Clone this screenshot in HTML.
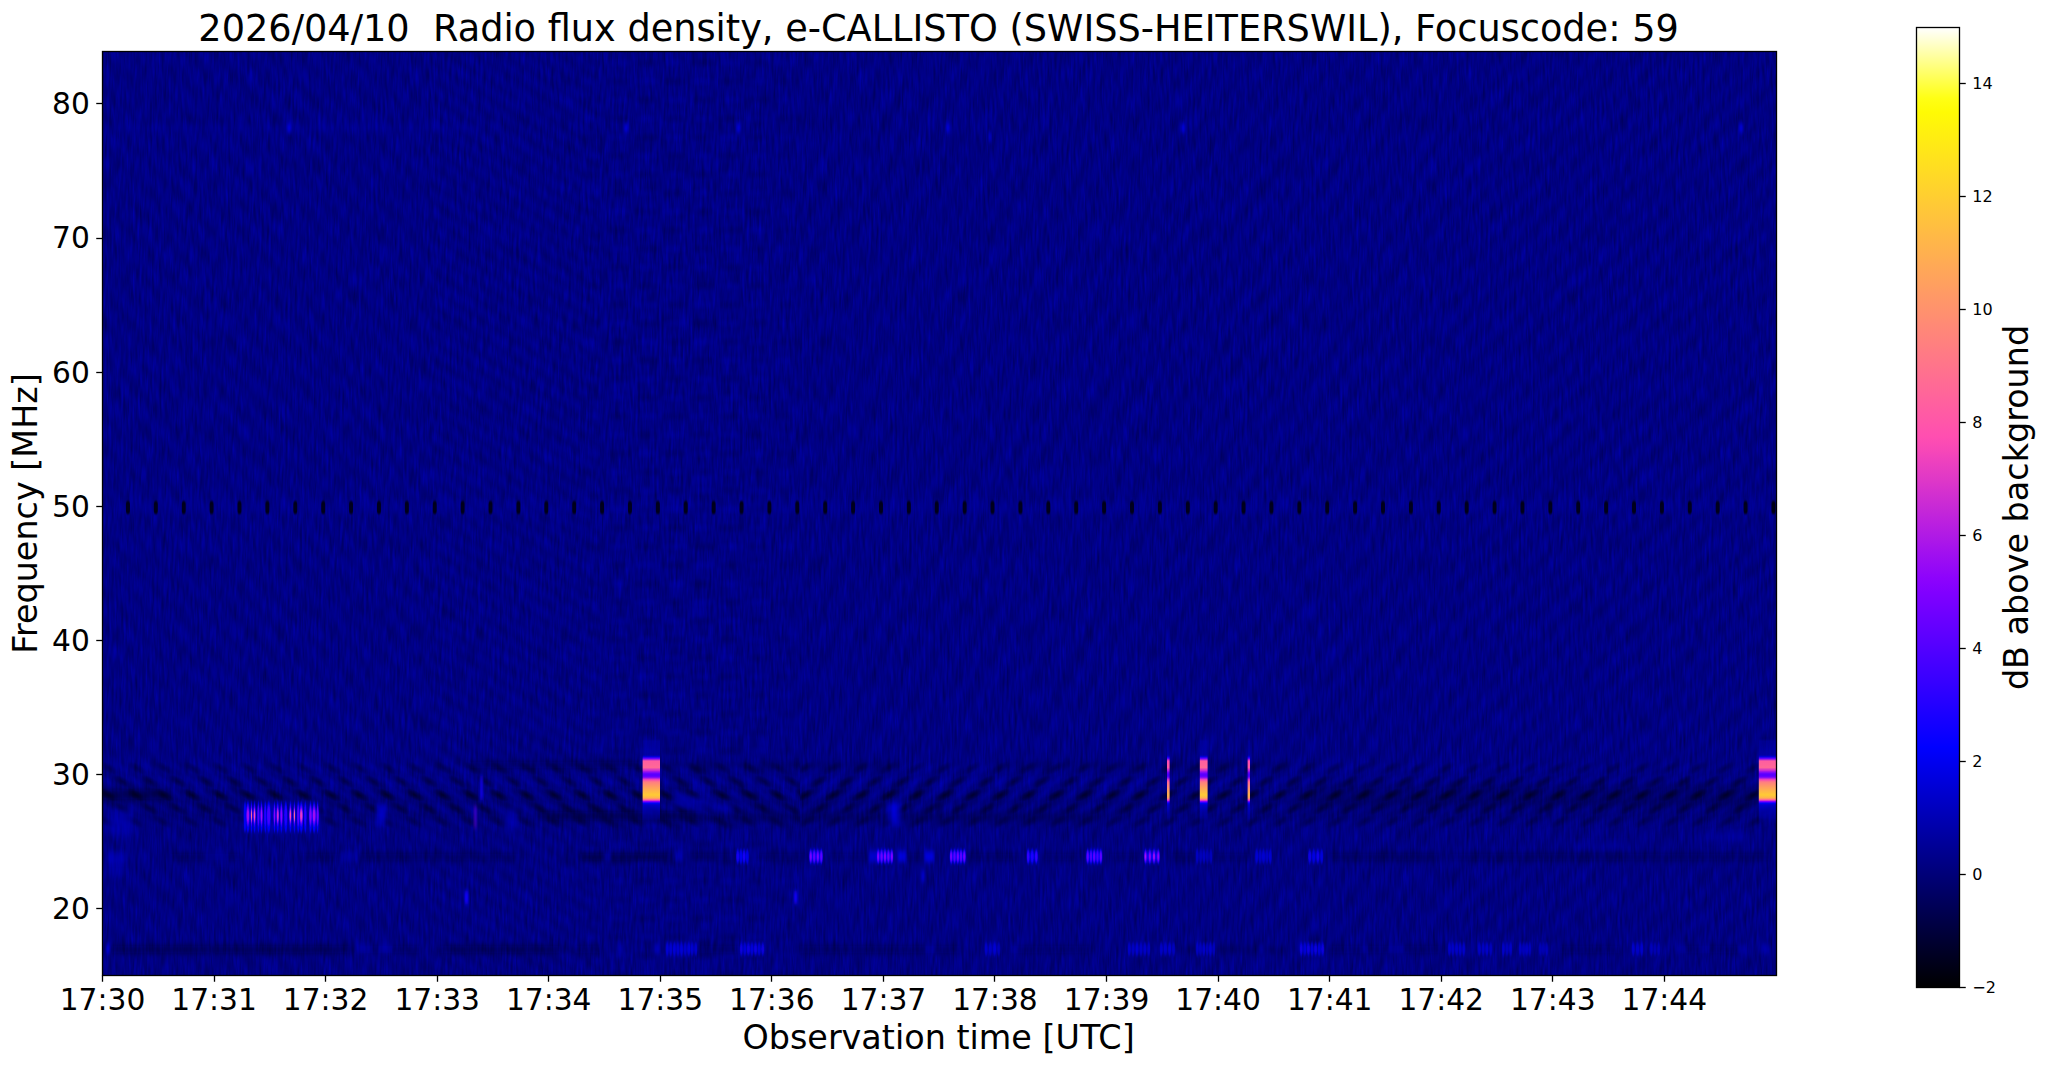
<!DOCTYPE html>
<html lang="en"><head><meta charset="utf-8">
<title>Radio flux density, e-CALLISTO (SWISS-HEITERSWIL)</title>
<style>
html,body{margin:0;padding:0;background:#fff;}
body{width:2047px;height:1067px;overflow:hidden;}
svg{display:block;}
text{font-family:"DejaVu Sans", "Liberation Sans", sans-serif;fill:#000;}
.t1{font-size:36.68px;}.t2{font-size:33.4px;}.t3{font-size:29.7px;}.t4{font-size:16px;}
</style></head><body>
<svg width="2047" height="1067" viewBox="0 0 2047 1067">
<defs>
<clipPath id="axclip"><rect x="102.50" y="51.50" width="1674.00" height="924.00"/></clipPath>
<filter id="noise" x="0" y="0" width="100%" height="100%" color-interpolation-filters="sRGB"><feTurbulence type="fractalNoise" baseFrequency="0.42 0.045" numOctaves="2" seed="11" result="n"/><feColorMatrix in="n" type="matrix" values="0 0 0 0 0  0 0 0 0 0  0.25 0.16 0 0 0.305  0 0 0 0 1"/></filter>
<filter id="b1" x="-50%" y="-50%" width="200%" height="200%"><feGaussianBlur stdDeviation="1.2 2.5"/></filter>
<filter id="b2" x="-50%" y="-50%" width="200%" height="200%"><feGaussianBlur stdDeviation="3 3"/></filter>
<filter id="b3" x="-50%" y="-50%" width="200%" height="200%"><feGaussianBlur stdDeviation="0.6 1.6"/></filter>
<filter id="b5" x="-5%" y="-200%" width="110%" height="500%"><feGaussianBlur stdDeviation="0.5 1.0"/></filter>
<filter id="b6" x="-50%" y="-10%" width="200%" height="120%"><feGaussianBlur stdDeviation="0.7 0.6"/></filter>
<filter id="b7" x="-200%" y="-10%" width="500%" height="120%"><feGaussianBlur stdDeviation="0.5 0.6"/></filter>
<filter id="b8" x="-10%" y="-30%" width="120%" height="160%"><feGaussianBlur stdDeviation="0.55 1.8"/></filter>
<filter id="b4" x="-20%" y="-100%" width="140%" height="300%"><feGaussianBlur stdDeviation="5 3"/></filter>
<radialGradient id="dk"><stop offset="0" stop-color="#000018" stop-opacity="0.9"/><stop offset="0.55" stop-color="#000018" stop-opacity="0.45"/><stop offset="1" stop-color="#000018" stop-opacity="0"/></radialGradient>
<radialGradient id="lt"><stop offset="0" stop-color="#0000ee" stop-opacity="0.8"/><stop offset="0.55" stop-color="#0000ee" stop-opacity="0.4"/><stop offset="1" stop-color="#0000ee" stop-opacity="0"/></radialGradient>
<linearGradient id="bar" x1="0" y1="0" x2="1" y2="0"><stop offset="0" stop-color="#000020" stop-opacity="0"/><stop offset="0.25" stop-color="#000020" stop-opacity="1"/><stop offset="0.5" stop-color="#000020" stop-opacity="0"/><stop offset="0.5" stop-color="#0000e0" stop-opacity="0"/><stop offset="0.75" stop-color="#0000e0" stop-opacity="0.9"/><stop offset="1" stop-color="#0000e0" stop-opacity="0"/></linearGradient>
<linearGradient id="hbar" x1="0" y1="0" x2="0" y2="1"><stop offset="0" stop-color="#000020" stop-opacity="0"/><stop offset="0.25" stop-color="#000020" stop-opacity="1"/><stop offset="0.5" stop-color="#000020" stop-opacity="0"/><stop offset="0.5" stop-color="#0000e0" stop-opacity="0"/><stop offset="0.75" stop-color="#0000e0" stop-opacity="0.9"/><stop offset="1" stop-color="#0000e0" stop-opacity="0"/></linearGradient>
<pattern id="zA" width="27.89" height="20" patternUnits="userSpaceOnUse" patternTransform="translate(121 500) skewX(43)"><rect width="27.89" height="20" fill="url(#bar)"/></pattern>
<pattern id="zB" width="27.89" height="20" patternUnits="userSpaceOnUse" patternTransform="translate(121 500) skewX(58)"><rect width="27.89" height="20" fill="url(#bar)"/></pattern>
<pattern id="zD" width="27.89" height="20" patternUnits="userSpaceOnUse" patternTransform="translate(121 500) skewX(-28)"><rect width="27.89" height="20" fill="url(#bar)"/></pattern>
<pattern id="zD2" width="27.89" height="20" patternUnits="userSpaceOnUse" patternTransform="translate(121 500) skewX(-38)"><rect width="27.89" height="20" fill="url(#bar)"/></pattern>
<pattern id="zE" width="27.89" height="20" patternUnits="userSpaceOnUse" patternTransform="translate(121 500) skewX(-47)"><rect width="27.89" height="20" fill="url(#bar)"/></pattern>
<pattern id="dA" width="27.89" height="20" patternUnits="userSpaceOnUse" patternTransform="translate(129 795) skewX(45)"><rect width="27.89" height="20" fill="url(#bar)"/></pattern>
<pattern id="dE" width="27.89" height="20" patternUnits="userSpaceOnUse" patternTransform="translate(129 795) skewX(-45)"><rect width="27.89" height="20" fill="url(#bar)"/></pattern>
<linearGradient id="fadeV" x1="0" y1="0" x2="0" y2="1"><stop offset="0" stop-color="#fff" stop-opacity="0"/><stop offset="0.3" stop-color="#fff" stop-opacity="0.8"/><stop offset="0.5" stop-color="#fff"/><stop offset="0.7" stop-color="#fff" stop-opacity="0.8"/><stop offset="1" stop-color="#fff" stop-opacity="0"/></linearGradient>
<mask id="mV" maskUnits="userSpaceOnUse" x="0" y="752" width="2047" height="86"><rect x="0" y="752" width="2047" height="86" fill="url(#fadeV)"/></mask>
<pattern id="zC" width="55.78" height="37.2" patternUnits="userSpaceOnUse" patternTransform="translate(800 500)"><ellipse cx="14" cy="9.3" rx="15" ry="5.5" fill="url(#dk)"/><ellipse cx="42" cy="9.3" rx="15" ry="5.5" fill="url(#lt)"/><ellipse cx="42" cy="27.9" rx="15" ry="5.5" fill="url(#dk)"/><ellipse cx="14" cy="27.9" rx="15" ry="5.5" fill="url(#lt)"/></pattern>
<linearGradient id="fadeC" x1="0" y1="0" x2="1" y2="0"><stop offset="0" stop-color="#fff" stop-opacity="0"/><stop offset="0.3" stop-color="#fff"/><stop offset="0.7" stop-color="#fff"/><stop offset="1" stop-color="#fff" stop-opacity="0"/></linearGradient>
<mask id="mC" maskUnits="userSpaceOnUse" x="540" y="0" width="290" height="1067"><rect x="540" y="0" width="290" height="1067" fill="url(#fadeC)"/></mask>
<pattern id="qL" width="27.89" height="13.4" patternUnits="userSpaceOnUse" patternTransform="translate(122.30 788.3) skewX(45)"><ellipse cx="7" cy="6.7" rx="7.5" ry="6.7" fill="url(#dk)" fill-opacity="1.00"/><ellipse cx="20.9" cy="6.7" rx="6.4" ry="6.7" fill="url(#lt)" fill-opacity="0.30"/></pattern>
<pattern id="qR" width="27.89" height="13.4" patternUnits="userSpaceOnUse" patternTransform="translate(135.70 788.3) skewX(-45)"><ellipse cx="7" cy="6.7" rx="7.5" ry="6.7" fill="url(#dk)" fill-opacity="1.00"/><ellipse cx="20.9" cy="6.7" rx="6.4" ry="6.7" fill="url(#lt)" fill-opacity="0.30"/></pattern>
<linearGradient id="gb1" x1="0" y1="0" x2="0" y2="1"><stop offset="0.0000" stop-color="#00008a" stop-opacity="0.00"/><stop offset="0.0349" stop-color="#0000ae" stop-opacity="0.50"/><stop offset="0.1977" stop-color="#0000b4" stop-opacity="0.65"/><stop offset="0.2186" stop-color="#0000e4" stop-opacity="1.00"/><stop offset="0.2395" stop-color="#6900ff" stop-opacity="1.00"/><stop offset="0.2674" stop-color="#ff5fa0" stop-opacity="1.00"/><stop offset="0.3430" stop-color="#ff6897" stop-opacity="1.00"/><stop offset="0.3779" stop-color="#c729d6" stop-opacity="1.00"/><stop offset="0.4070" stop-color="#6e00ff" stop-opacity="1.00"/><stop offset="0.4302" stop-color="#5200ff" stop-opacity="1.00"/><stop offset="0.4535" stop-color="#6e00ff" stop-opacity="1.00"/><stop offset="0.4849" stop-color="#f647b8" stop-opacity="1.00"/><stop offset="0.5116" stop-color="#ff7d82" stop-opacity="1.00"/><stop offset="0.5581" stop-color="#ff9867" stop-opacity="1.00"/><stop offset="0.6163" stop-color="#ffb649" stop-opacity="1.00"/><stop offset="0.6628" stop-color="#ffcb34" stop-opacity="1.00"/><stop offset="0.6977" stop-color="#ffb04f" stop-opacity="1.00"/><stop offset="0.7209" stop-color="#ff56a9" stop-opacity="1.00"/><stop offset="0.7384" stop-color="#8100ff" stop-opacity="1.00"/><stop offset="0.7558" stop-color="#0700ff" stop-opacity="1.00"/><stop offset="0.7791" stop-color="#0000d2" stop-opacity="0.90"/><stop offset="0.8372" stop-color="#0000c0" stop-opacity="0.75"/><stop offset="0.9302" stop-color="#0000ae" stop-opacity="0.50"/><stop offset="1.0000" stop-color="#00008a" stop-opacity="0.00"/></linearGradient>
<linearGradient id="gb2" x1="0" y1="0" x2="0" y2="1"><stop offset="0.0000" stop-color="#00008a" stop-opacity="0.00"/><stop offset="0.0349" stop-color="#0000ae" stop-opacity="0.50"/><stop offset="0.1977" stop-color="#0000b4" stop-opacity="0.65"/><stop offset="0.2186" stop-color="#0000e4" stop-opacity="1.00"/><stop offset="0.2395" stop-color="#5b00ff" stop-opacity="1.00"/><stop offset="0.2674" stop-color="#ff4db2" stop-opacity="1.00"/><stop offset="0.3430" stop-color="#ff56a9" stop-opacity="1.00"/><stop offset="0.3779" stop-color="#b21be4" stop-opacity="1.00"/><stop offset="0.4070" stop-color="#5f00ff" stop-opacity="1.00"/><stop offset="0.4302" stop-color="#4500ff" stop-opacity="1.00"/><stop offset="0.4535" stop-color="#5f00ff" stop-opacity="1.00"/><stop offset="0.4849" stop-color="#dd37c8" stop-opacity="1.00"/><stop offset="0.5116" stop-color="#ff6996" stop-opacity="1.00"/><stop offset="0.5581" stop-color="#ff827d" stop-opacity="1.00"/><stop offset="0.6163" stop-color="#ff9e61" stop-opacity="1.00"/><stop offset="0.6628" stop-color="#ffb24d" stop-opacity="1.00"/><stop offset="0.6977" stop-color="#ff9966" stop-opacity="1.00"/><stop offset="0.7209" stop-color="#f345ba" stop-opacity="1.00"/><stop offset="0.7384" stop-color="#7100ff" stop-opacity="1.00"/><stop offset="0.7558" stop-color="#0000fe" stop-opacity="1.00"/><stop offset="0.7791" stop-color="#0000d2" stop-opacity="0.90"/><stop offset="0.8372" stop-color="#0000c0" stop-opacity="0.75"/><stop offset="0.9302" stop-color="#0000ae" stop-opacity="0.50"/><stop offset="1.0000" stop-color="#00008a" stop-opacity="0.00"/></linearGradient>
<linearGradient id="cbar" x1="0" y1="1" x2="0" y2="0"><stop offset="0.0000" stop-color="#000000"/><stop offset="0.0147" stop-color="#00000f"/><stop offset="0.0294" stop-color="#00001e"/><stop offset="0.0441" stop-color="#00002d"/><stop offset="0.0588" stop-color="#00003c"/><stop offset="0.0735" stop-color="#00004b"/><stop offset="0.0882" stop-color="#00005a"/><stop offset="0.1029" stop-color="#000069"/><stop offset="0.1176" stop-color="#000078"/><stop offset="0.1324" stop-color="#000087"/><stop offset="0.1471" stop-color="#000096"/><stop offset="0.1618" stop-color="#0000a5"/><stop offset="0.1765" stop-color="#0000b4"/><stop offset="0.1912" stop-color="#0000c3"/><stop offset="0.2059" stop-color="#0000d2"/><stop offset="0.2206" stop-color="#0000e1"/><stop offset="0.2353" stop-color="#0000f0"/><stop offset="0.2500" stop-color="#0000ff"/><stop offset="0.2647" stop-color="#0c00ff"/><stop offset="0.2794" stop-color="#1700ff"/><stop offset="0.2941" stop-color="#2300ff"/><stop offset="0.3088" stop-color="#2f00ff"/><stop offset="0.3235" stop-color="#3b00ff"/><stop offset="0.3382" stop-color="#4600ff"/><stop offset="0.3529" stop-color="#5200ff"/><stop offset="0.3676" stop-color="#5e00ff"/><stop offset="0.3824" stop-color="#6900ff"/><stop offset="0.3971" stop-color="#7500ff"/><stop offset="0.4118" stop-color="#8100ff"/><stop offset="0.4265" stop-color="#8d03fc"/><stop offset="0.4412" stop-color="#980bf4"/><stop offset="0.4559" stop-color="#a412ed"/><stop offset="0.4706" stop-color="#b01ae5"/><stop offset="0.4853" stop-color="#bc21de"/><stop offset="0.5000" stop-color="#c729d6"/><stop offset="0.5147" stop-color="#d330cf"/><stop offset="0.5294" stop-color="#df38c7"/><stop offset="0.5441" stop-color="#ea3fc0"/><stop offset="0.5588" stop-color="#f647b8"/><stop offset="0.5735" stop-color="#ff4eb1"/><stop offset="0.5882" stop-color="#ff56a9"/><stop offset="0.6029" stop-color="#ff5da2"/><stop offset="0.6176" stop-color="#ff659a"/><stop offset="0.6324" stop-color="#ff6c93"/><stop offset="0.6471" stop-color="#ff748b"/><stop offset="0.6618" stop-color="#ff7b84"/><stop offset="0.6765" stop-color="#ff837c"/><stop offset="0.6912" stop-color="#ff8a75"/><stop offset="0.7059" stop-color="#ff926d"/><stop offset="0.7206" stop-color="#ff9966"/><stop offset="0.7353" stop-color="#ffa15e"/><stop offset="0.7500" stop-color="#ffa857"/><stop offset="0.7647" stop-color="#ffb04f"/><stop offset="0.7794" stop-color="#ffb748"/><stop offset="0.7941" stop-color="#ffbf40"/><stop offset="0.8088" stop-color="#ffc639"/><stop offset="0.8235" stop-color="#ffce31"/><stop offset="0.8382" stop-color="#ffd52a"/><stop offset="0.8529" stop-color="#ffdd22"/><stop offset="0.8676" stop-color="#ffe41b"/><stop offset="0.8824" stop-color="#ffec13"/><stop offset="0.8971" stop-color="#fff30c"/><stop offset="0.9118" stop-color="#fffb04"/><stop offset="0.9265" stop-color="#ffff15"/><stop offset="0.9412" stop-color="#ffff43"/><stop offset="0.9559" stop-color="#ffff72"/><stop offset="0.9706" stop-color="#ffffa1"/><stop offset="0.9853" stop-color="#ffffd0"/><stop offset="1.0000" stop-color="#ffffff"/></linearGradient>
</defs>
<g clip-path="url(#axclip)">
<rect x="102.50" y="51.50" width="1674.00" height="924.00" fill="#000078"/>
<rect x="102.50" y="51.50" width="1674.00" height="924.00" filter="url(#noise)"/>
<rect x="102.5" y="51.5" width="327.5" height="924.0" fill="url(#zA)" fill-opacity="0.07"/>
<rect x="430.0" y="51.5" width="170.0" height="924.0" fill="url(#zB)" fill-opacity="0.07"/>
<rect x="790.0" y="51.5" width="360.0" height="924.0" fill="url(#zD)" fill-opacity="0.07"/>
<rect x="1150.0" y="51.5" width="300.0" height="924.0" fill="url(#zD2)" fill-opacity="0.07"/>
<rect x="1450.0" y="51.5" width="326.5" height="924.0" fill="url(#zE)" fill-opacity="0.07"/>
<rect x="540" y="51.5" width="290" height="924.0" fill="url(#zC)" fill-opacity="0.17" mask="url(#mC)"/>
<rect x="102.5" y="788.3" width="697.5" height="13.4" fill="url(#qL)" fill-opacity="0.75"/>
<rect x="800.0" y="788.3" width="976.5" height="13.4" fill="url(#qR)" fill-opacity="0.75"/>
<rect x="102.5" y="774.9" width="697.5" height="13.4" fill="url(#qL)" fill-opacity="0.50"/>
<rect x="800.0" y="774.9" width="976.5" height="13.4" fill="url(#qR)" fill-opacity="0.50"/>
<rect x="102.5" y="801.7" width="697.5" height="13.4" fill="url(#qL)" fill-opacity="0.50"/>
<rect x="800.0" y="801.7" width="976.5" height="13.4" fill="url(#qR)" fill-opacity="0.50"/>
<rect x="102.5" y="761.5" width="697.5" height="13.4" fill="url(#qL)" fill-opacity="0.36"/>
<rect x="800.0" y="761.5" width="976.5" height="13.4" fill="url(#qR)" fill-opacity="0.36"/>
<rect x="102.5" y="815.1" width="697.5" height="13.4" fill="url(#qL)" fill-opacity="0.36"/>
<rect x="800.0" y="815.1" width="976.5" height="13.4" fill="url(#qR)" fill-opacity="0.36"/>
<g mask="url(#mV)"><rect x="102.5" y="752" width="697.5" height="86" fill="url(#dA)" fill-opacity="0.16"/><rect x="800.0" y="752" width="976.5" height="86" fill="url(#dE)" fill-opacity="0.16"/></g>
<rect x="92.5" y="790.0" width="77.5" height="9.0" fill="#000018" fill-opacity="0.50" filter="url(#b4)"/>
<rect x="170.0" y="790.0" width="1616.5" height="9.0" fill="#000018" fill-opacity="0.05" filter="url(#b4)"/>
<rect x="92.5" y="793.0" width="1694.0" height="30.0" fill="#000018" fill-opacity="0.08" filter="url(#b4)"/>
<rect x="470.0" y="761.5" width="170.0" height="7.0" fill="#000018" fill-opacity="0.32" filter="url(#b4)"/>
<rect x="665.0" y="762.5" width="235.0" height="7.0" fill="#000018" fill-opacity="0.20" filter="url(#b4)"/>
<rect x="1000.0" y="762.5" width="300.0" height="7.0" fill="#000018" fill-opacity="0.15" filter="url(#b4)"/>
<rect x="540.0" y="812.0" width="160.0" height="8.0" fill="#000018" fill-opacity="0.45" filter="url(#b4)"/>
<rect x="700.0" y="814.0" width="400.0" height="8.0" fill="#000018" fill-opacity="0.18" filter="url(#b4)"/>
<rect x="1300.0" y="783.0" width="460.0" height="24.0" fill="#000018" fill-opacity="0.15" filter="url(#b4)"/>
<rect x="170.0" y="854.0" width="70.0" height="6.0" fill="#000018" fill-opacity="0.35" filter="url(#b4)"/>
<rect x="300.0" y="854.0" width="40.0" height="6.0" fill="#000018" fill-opacity="0.30" filter="url(#b4)"/>
<rect x="360.0" y="854.0" width="160.0" height="6.0" fill="#000018" fill-opacity="0.35" filter="url(#b4)"/>
<rect x="580.0" y="854.0" width="90.0" height="6.0" fill="#000018" fill-opacity="0.60" filter="url(#b4)"/>
<rect x="690.0" y="854.0" width="45.0" height="6.0" fill="#000018" fill-opacity="0.30" filter="url(#b4)"/>
<rect x="760.0" y="854.0" width="45.0" height="6.0" fill="#000018" fill-opacity="0.30" filter="url(#b4)"/>
<rect x="830.0" y="854.0" width="35.0" height="6.0" fill="#000018" fill-opacity="0.30" filter="url(#b4)"/>
<rect x="905.0" y="854.0" width="20.0" height="6.0" fill="#000018" fill-opacity="0.30" filter="url(#b4)"/>
<rect x="970.0" y="854.0" width="50.0" height="6.0" fill="#000018" fill-opacity="0.30" filter="url(#b4)"/>
<rect x="1045.0" y="854.0" width="35.0" height="6.0" fill="#000018" fill-opacity="0.30" filter="url(#b4)"/>
<rect x="1110.0" y="854.0" width="30.0" height="6.0" fill="#000018" fill-opacity="0.30" filter="url(#b4)"/>
<rect x="1170.0" y="854.0" width="25.0" height="6.0" fill="#000018" fill-opacity="0.30" filter="url(#b4)"/>
<rect x="1215.0" y="854.0" width="35.0" height="6.0" fill="#000018" fill-opacity="0.30" filter="url(#b4)"/>
<rect x="1330.0" y="854.0" width="110.0" height="6.0" fill="#000018" fill-opacity="0.40" filter="url(#b4)"/>
<rect x="1450.0" y="854.0" width="320.0" height="6.0" fill="#000018" fill-opacity="0.35" filter="url(#b4)"/>
<rect x="112.0" y="946.0" width="98.0" height="7.0" fill="#000018" fill-opacity="0.45" filter="url(#b4)"/>
<rect x="215.0" y="946.0" width="135.0" height="7.0" fill="#000018" fill-opacity="0.45" filter="url(#b4)"/>
<rect x="360.0" y="946.0" width="60.0" height="7.0" fill="#000018" fill-opacity="0.30" filter="url(#b4)"/>
<rect x="440.0" y="946.0" width="120.0" height="7.0" fill="#000018" fill-opacity="0.45" filter="url(#b4)"/>
<rect x="575.0" y="946.0" width="25.0" height="7.0" fill="#000018" fill-opacity="0.30" filter="url(#b4)"/>
<rect x="700.0" y="946.0" width="40.0" height="7.0" fill="#000018" fill-opacity="0.25" filter="url(#b4)"/>
<rect x="800.0" y="946.0" width="160.0" height="7.0" fill="#000018" fill-opacity="0.30" filter="url(#b4)"/>
<rect x="1010.0" y="946.0" width="80.0" height="7.0" fill="#000018" fill-opacity="0.25" filter="url(#b4)"/>
<rect x="1180.0" y="946.0" width="110.0" height="7.0" fill="#000018" fill-opacity="0.20" filter="url(#b4)"/>
<rect x="1330.0" y="946.0" width="110.0" height="7.0" fill="#000018" fill-opacity="0.25" filter="url(#b4)"/>
<rect x="1560.0" y="946.0" width="60.0" height="7.0" fill="#000018" fill-opacity="0.25" filter="url(#b4)"/>
<rect x="1680.0" y="946.0" width="60.0" height="7.0" fill="#000018" fill-opacity="0.25" filter="url(#b4)"/>
<g fill="#000" filter="url(#b5)"><rect x="125.95" y="500.90" width="4.0" height="13" rx="1.8" ry="3.5"/><rect x="153.84" y="500.90" width="4.0" height="13" rx="1.8" ry="3.5"/><rect x="181.73" y="500.90" width="4.0" height="13" rx="1.8" ry="3.5"/><rect x="209.62" y="500.90" width="4.0" height="13" rx="1.8" ry="3.5"/><rect x="237.51" y="500.90" width="4.0" height="13" rx="1.8" ry="3.5"/><rect x="265.40" y="500.90" width="4.0" height="13" rx="1.8" ry="3.5"/><rect x="293.29" y="500.90" width="4.0" height="13" rx="1.8" ry="3.5"/><rect x="321.18" y="500.90" width="4.0" height="13" rx="1.8" ry="3.5"/><rect x="349.07" y="500.90" width="4.0" height="13" rx="1.8" ry="3.5"/><rect x="376.96" y="500.90" width="4.0" height="13" rx="1.8" ry="3.5"/><rect x="404.85" y="500.90" width="4.0" height="13" rx="1.8" ry="3.5"/><rect x="432.74" y="500.90" width="4.0" height="13" rx="1.8" ry="3.5"/><rect x="460.63" y="500.90" width="4.0" height="13" rx="1.8" ry="3.5"/><rect x="488.52" y="500.90" width="4.0" height="13" rx="1.8" ry="3.5"/><rect x="516.41" y="500.90" width="4.0" height="13" rx="1.8" ry="3.5"/><rect x="544.30" y="500.90" width="4.0" height="13" rx="1.8" ry="3.5"/><rect x="572.19" y="500.90" width="4.0" height="13" rx="1.8" ry="3.5"/><rect x="600.08" y="500.90" width="4.0" height="13" rx="1.8" ry="3.5"/><rect x="627.97" y="500.90" width="4.0" height="13" rx="1.8" ry="3.5"/><rect x="655.86" y="500.90" width="4.0" height="13" rx="1.8" ry="3.5"/><rect x="683.75" y="500.90" width="4.0" height="13" rx="1.8" ry="3.5"/><rect x="711.64" y="500.90" width="4.0" height="13" rx="1.8" ry="3.5"/><rect x="739.53" y="500.90" width="4.0" height="13" rx="1.8" ry="3.5"/><rect x="767.42" y="500.90" width="4.0" height="13" rx="1.8" ry="3.5"/><rect x="795.31" y="500.90" width="4.0" height="13" rx="1.8" ry="3.5"/><rect x="823.20" y="500.90" width="4.0" height="13" rx="1.8" ry="3.5"/><rect x="851.09" y="500.90" width="4.0" height="13" rx="1.8" ry="3.5"/><rect x="878.98" y="500.90" width="4.0" height="13" rx="1.8" ry="3.5"/><rect x="906.87" y="500.90" width="4.0" height="13" rx="1.8" ry="3.5"/><rect x="934.76" y="500.90" width="4.0" height="13" rx="1.8" ry="3.5"/><rect x="962.65" y="500.90" width="4.0" height="13" rx="1.8" ry="3.5"/><rect x="990.54" y="500.90" width="4.0" height="13" rx="1.8" ry="3.5"/><rect x="1018.43" y="500.90" width="4.0" height="13" rx="1.8" ry="3.5"/><rect x="1046.32" y="500.90" width="4.0" height="13" rx="1.8" ry="3.5"/><rect x="1074.21" y="500.90" width="4.0" height="13" rx="1.8" ry="3.5"/><rect x="1102.10" y="500.90" width="4.0" height="13" rx="1.8" ry="3.5"/><rect x="1129.99" y="500.90" width="4.0" height="13" rx="1.8" ry="3.5"/><rect x="1157.88" y="500.90" width="4.0" height="13" rx="1.8" ry="3.5"/><rect x="1185.77" y="500.90" width="4.0" height="13" rx="1.8" ry="3.5"/><rect x="1213.66" y="500.90" width="4.0" height="13" rx="1.8" ry="3.5"/><rect x="1241.55" y="500.90" width="4.0" height="13" rx="1.8" ry="3.5"/><rect x="1269.44" y="500.90" width="4.0" height="13" rx="1.8" ry="3.5"/><rect x="1297.33" y="500.90" width="4.0" height="13" rx="1.8" ry="3.5"/><rect x="1325.22" y="500.90" width="4.0" height="13" rx="1.8" ry="3.5"/><rect x="1353.11" y="500.90" width="4.0" height="13" rx="1.8" ry="3.5"/><rect x="1381.00" y="500.90" width="4.0" height="13" rx="1.8" ry="3.5"/><rect x="1408.89" y="500.90" width="4.0" height="13" rx="1.8" ry="3.5"/><rect x="1436.78" y="500.90" width="4.0" height="13" rx="1.8" ry="3.5"/><rect x="1464.67" y="500.90" width="4.0" height="13" rx="1.8" ry="3.5"/><rect x="1492.56" y="500.90" width="4.0" height="13" rx="1.8" ry="3.5"/><rect x="1520.45" y="500.90" width="4.0" height="13" rx="1.8" ry="3.5"/><rect x="1548.34" y="500.90" width="4.0" height="13" rx="1.8" ry="3.5"/><rect x="1576.23" y="500.90" width="4.0" height="13" rx="1.8" ry="3.5"/><rect x="1604.12" y="500.90" width="4.0" height="13" rx="1.8" ry="3.5"/><rect x="1632.01" y="500.90" width="4.0" height="13" rx="1.8" ry="3.5"/><rect x="1659.90" y="500.90" width="4.0" height="13" rx="1.8" ry="3.5"/><rect x="1687.79" y="500.90" width="4.0" height="13" rx="1.8" ry="3.5"/><rect x="1715.68" y="500.90" width="4.0" height="13" rx="1.8" ry="3.5"/><rect x="1743.57" y="500.90" width="4.0" height="13" rx="1.8" ry="3.5"/><rect x="1771.46" y="500.90" width="4.0" height="13" rx="1.8" ry="3.5"/></g>
<rect x="102.5" y="501.4" width="1674.0" height="12" fill="#0000c8" fill-opacity="0.16" filter="url(#b4)"/>
<rect x="244" y="804" width="75" height="27" fill="#0000c8" fill-opacity="0.55" filter="url(#b2)"/>
<g filter="url(#b8)"><ellipse cx="245.0" cy="817.0" rx="1.25" ry="15.5" fill="#0200ff" fill-opacity="0.9"/><ellipse cx="247.9" cy="817.0" rx="1.88" ry="15.5" fill="#0200ff" fill-opacity="0.9"/><ellipse cx="247.9" cy="815.5" rx="1.50" ry="9.6" fill="#5b00ff"/><ellipse cx="247.9" cy="815.5" rx="1.20" ry="6.2" fill="#980bf4"/><ellipse cx="251.5" cy="817.0" rx="1.00" ry="15.5" fill="#0200ff" fill-opacity="0.9"/><ellipse cx="251.5" cy="815.5" rx="0.80" ry="9.6" fill="#5b00ff"/><ellipse cx="251.5" cy="815.5" rx="0.64" ry="6.2" fill="#be23dc"/><ellipse cx="251.5" cy="815.5" rx="0.50" ry="4.2" fill="#ff6e91"/><ellipse cx="254.5" cy="817.0" rx="1.25" ry="15.5" fill="#0200ff" fill-opacity="0.9"/><ellipse cx="254.5" cy="815.5" rx="1.00" ry="9.6" fill="#5b00ff"/><ellipse cx="254.5" cy="815.5" rx="0.80" ry="6.2" fill="#be23dc"/><ellipse cx="254.5" cy="815.5" rx="0.62" ry="4.2" fill="#fb4ab5"/><ellipse cx="258.4" cy="817.0" rx="1.25" ry="15.5" fill="#0200ff" fill-opacity="0.9"/><ellipse cx="258.4" cy="815.5" rx="1.00" ry="9.6" fill="#5200ff"/><ellipse cx="261.5" cy="817.0" rx="1.25" ry="15.5" fill="#0200ff" fill-opacity="0.9"/><ellipse cx="261.5" cy="815.5" rx="1.00" ry="9.6" fill="#5b00ff"/><ellipse cx="261.5" cy="815.5" rx="0.80" ry="6.2" fill="#980bf4"/><ellipse cx="265.3" cy="817.0" rx="1.25" ry="15.5" fill="#0200ff" fill-opacity="0.9"/><ellipse cx="265.3" cy="815.5" rx="1.00" ry="9.6" fill="#2300ff"/><ellipse cx="268.7" cy="817.0" rx="2.00" ry="15.5" fill="#0200ff" fill-opacity="0.9"/><ellipse cx="268.7" cy="815.5" rx="1.60" ry="9.6" fill="#3f00ff"/><ellipse cx="274.5" cy="817.0" rx="1.00" ry="15.5" fill="#0200ff" fill-opacity="0.9"/><ellipse cx="274.5" cy="815.5" rx="0.80" ry="9.6" fill="#5b00ff"/><ellipse cx="274.5" cy="815.5" rx="0.64" ry="6.2" fill="#8100ff"/><ellipse cx="277.7" cy="817.0" rx="1.38" ry="15.5" fill="#0200ff" fill-opacity="0.9"/><ellipse cx="277.7" cy="815.5" rx="1.10" ry="9.6" fill="#5b00ff"/><ellipse cx="277.7" cy="815.5" rx="0.88" ry="6.2" fill="#be23dc"/><ellipse cx="277.7" cy="815.5" rx="0.68" ry="4.2" fill="#cc2cd3"/><ellipse cx="281.4" cy="817.0" rx="1.25" ry="15.5" fill="#0200ff" fill-opacity="0.9"/><ellipse cx="281.4" cy="815.5" rx="1.00" ry="9.6" fill="#5b00ff"/><ellipse cx="281.4" cy="815.5" rx="0.80" ry="6.2" fill="#8100ff"/><ellipse cx="285.8" cy="817.0" rx="1.62" ry="15.5" fill="#0200ff" fill-opacity="0.9"/><ellipse cx="285.8" cy="815.5" rx="1.30" ry="9.6" fill="#2300ff"/><ellipse cx="290.4" cy="817.0" rx="1.25" ry="15.5" fill="#0200ff" fill-opacity="0.9"/><ellipse cx="290.4" cy="815.5" rx="1.00" ry="9.6" fill="#5b00ff"/><ellipse cx="290.4" cy="815.5" rx="0.80" ry="6.2" fill="#be23dc"/><ellipse cx="290.4" cy="815.5" rx="0.62" ry="4.2" fill="#fb4ab5"/><ellipse cx="294.4" cy="817.0" rx="1.00" ry="15.5" fill="#0200ff" fill-opacity="0.9"/><ellipse cx="294.4" cy="815.5" rx="0.80" ry="9.6" fill="#5b00ff"/><ellipse cx="294.4" cy="815.5" rx="0.64" ry="6.2" fill="#be23dc"/><ellipse cx="294.4" cy="815.5" rx="0.50" ry="4.2" fill="#ff7a85"/><ellipse cx="298.3" cy="817.0" rx="1.50" ry="15.5" fill="#0200ff" fill-opacity="0.9"/><ellipse cx="298.3" cy="815.5" rx="1.20" ry="9.6" fill="#5200ff"/><ellipse cx="301.3" cy="817.0" rx="1.88" ry="15.5" fill="#0200ff" fill-opacity="0.9"/><ellipse cx="301.3" cy="815.5" rx="1.50" ry="9.6" fill="#5b00ff"/><ellipse cx="301.3" cy="815.5" rx="1.20" ry="6.2" fill="#be23dc"/><ellipse cx="301.3" cy="815.5" rx="0.93" ry="4.2" fill="#e83ec1"/><ellipse cx="305.3" cy="817.0" rx="1.25" ry="15.5" fill="#0200ff" fill-opacity="0.9"/><ellipse cx="305.3" cy="815.5" rx="1.00" ry="9.6" fill="#2300ff"/><ellipse cx="310.5" cy="817.0" rx="1.50" ry="15.5" fill="#0200ff" fill-opacity="0.9"/><ellipse cx="310.5" cy="815.5" rx="1.20" ry="9.6" fill="#5b00ff"/><ellipse cx="310.5" cy="815.5" rx="0.96" ry="6.2" fill="#8100ff"/><ellipse cx="314.1" cy="817.0" rx="2.00" ry="15.5" fill="#0200ff" fill-opacity="0.9"/><ellipse cx="314.1" cy="815.5" rx="1.60" ry="9.6" fill="#5b00ff"/><ellipse cx="314.1" cy="815.5" rx="1.28" ry="6.2" fill="#9d0ef1"/><ellipse cx="317.6" cy="817.0" rx="1.25" ry="15.5" fill="#0200ff" fill-opacity="0.9"/><ellipse cx="317.6" cy="815.5" rx="1.00" ry="9.6" fill="#5b00ff"/><ellipse cx="317.6" cy="815.5" rx="0.80" ry="6.2" fill="#6e00ff"/></g>
<rect x="377.5" y="805.0" width="7.0" height="20.0" fill="#0000fc" fill-opacity="0.80" filter="url(#b2)"/>
<rect x="480.2" y="776.0" width="2.5" height="24.0" fill="#1000ff" fill-opacity="0.90" filter="url(#b1)"/>
<rect x="474.4" y="806.0" width="1.8" height="22.0" fill="#6900ff" fill-opacity="0.80" filter="url(#b1)"/>
<rect x="464.6" y="891.0" width="3.5" height="13.0" fill="#1000ff" fill-opacity="1.00" filter="url(#b1)"/>
<rect x="793.9" y="891.0" width="3.5" height="13.0" fill="#1000ff" fill-opacity="1.00" filter="url(#b1)"/>
<rect x="921.5" y="870.5" width="2.5" height="11.0" fill="#0000f0" fill-opacity="0.80" filter="url(#b1)"/>
<rect x="890.0" y="803.0" width="9.0" height="22.0" fill="#0000fc" fill-opacity="0.80" filter="url(#b2)"/>
<rect x="507.0" y="805.0" width="10.0" height="24.0" fill="#0000d8" fill-opacity="0.50" filter="url(#b2)"/>
<rect x="107.0" y="809.0" width="26.0" height="26.0" fill="#0000d2" fill-opacity="0.45" filter="url(#b2)"/>
<rect x="107.0" y="855.0" width="16.0" height="22.0" fill="#0000d2" fill-opacity="0.40" filter="url(#b2)"/>
<rect x="1166.2" y="630.0" width="2.0" height="20.0" fill="#0000d8" fill-opacity="0.60" filter="url(#b1)"/>
<rect x="673.0" y="795.0" width="34.0" height="12.0" fill="#0000cc" fill-opacity="0.45" filter="url(#b2)"/>
<rect x="695.0" y="803.0" width="40.0" height="10.0" fill="#0000cc" fill-opacity="0.40" filter="url(#b2)"/>
<rect x="1701.0" y="832.5" width="50.0" height="9.0" fill="#0000c6" fill-opacity="0.35" filter="url(#b2)"/>
<rect x="1570.0" y="842.0" width="60.0" height="8.0" fill="#0000c0" fill-opacity="0.25" filter="url(#b2)"/>
<rect x="102.5" y="125" width="380" height="6" fill="#0000c0" fill-opacity="0.22" filter="url(#b4)"/>
<rect x="287.0" y="123.5" width="4.0" height="9.0" fill="#0000f0" fill-opacity="0.75" filter="url(#b1)"/>
<rect x="624.0" y="123.5" width="4.0" height="9.0" fill="#0000f0" fill-opacity="0.75" filter="url(#b1)"/>
<rect x="736.5" y="123.5" width="4.0" height="9.0" fill="#0000f0" fill-opacity="0.75" filter="url(#b1)"/>
<rect x="1181.0" y="123.5" width="4.0" height="9.0" fill="#0000f0" fill-opacity="0.75" filter="url(#b1)"/>
<rect x="1739.0" y="123.5" width="4.0" height="9.0" fill="#0000f0" fill-opacity="0.75" filter="url(#b1)"/>
<rect x="946.0" y="123.5" width="4.0" height="9.0" fill="#0000f0" fill-opacity="0.75" filter="url(#b1)"/>
<rect x="989.0" y="132.0" width="2.0" height="10.0" fill="#0700ff" fill-opacity="0.80" filter="url(#b1)"/>
<rect x="604.0" y="851.0" width="7.0" height="11" fill="#0000cc" fill-opacity="0.50" filter="url(#b1)"/>
<rect x="675.0" y="851.0" width="8.0" height="11" fill="#0000cc" fill-opacity="0.50" filter="url(#b1)"/>
<rect x="737.0" y="852.0" width="11.0" height="9" fill="#0000d1" fill-opacity="0.76" filter="url(#b1)"/>
<g filter="url(#b8)" opacity="0.80"><ellipse cx="737.7" cy="856.5" rx="1.44" ry="7.5" fill="#0200ff" fill-opacity="0.9"/><ellipse cx="737.7" cy="856.5" rx="1.15" ry="4.7" fill="#1a00ff"/><ellipse cx="740.9" cy="856.5" rx="1.44" ry="7.5" fill="#0200ff" fill-opacity="0.9"/><ellipse cx="744.1" cy="856.5" rx="1.44" ry="7.5" fill="#0200ff" fill-opacity="0.9"/><ellipse cx="744.1" cy="856.5" rx="1.15" ry="4.7" fill="#1a00ff"/><ellipse cx="747.3" cy="856.5" rx="1.44" ry="7.5" fill="#0200ff" fill-opacity="0.9"/></g>
<rect x="810.0" y="852.0" width="12.0" height="9" fill="#1500ff" fill-opacity="0.95" filter="url(#b1)"/>
<g filter="url(#b8)" opacity="1.00"><ellipse cx="810.7" cy="856.5" rx="1.44" ry="7.5" fill="#0200ff" fill-opacity="0.9"/><ellipse cx="810.7" cy="856.5" rx="1.15" ry="4.7" fill="#5b00ff"/><ellipse cx="810.7" cy="856.5" rx="0.92" ry="3.0" fill="#7800ff"/><ellipse cx="814.2" cy="856.5" rx="1.44" ry="7.5" fill="#0200ff" fill-opacity="0.9"/><ellipse cx="814.2" cy="856.5" rx="1.15" ry="4.7" fill="#5b00ff"/><ellipse cx="817.8" cy="856.5" rx="1.44" ry="7.5" fill="#0200ff" fill-opacity="0.9"/><ellipse cx="817.8" cy="856.5" rx="1.15" ry="4.7" fill="#5b00ff"/><ellipse cx="817.8" cy="856.5" rx="0.92" ry="3.0" fill="#7800ff"/><ellipse cx="821.3" cy="856.5" rx="1.44" ry="7.5" fill="#0200ff" fill-opacity="0.9"/><ellipse cx="821.3" cy="856.5" rx="1.15" ry="4.7" fill="#5b00ff"/></g>
<rect x="869.0" y="851.0" width="11.0" height="11" fill="#0000e4" fill-opacity="0.70" filter="url(#b1)"/>
<rect x="877.5" y="852.0" width="15.0" height="9" fill="#1500ff" fill-opacity="0.95" filter="url(#b1)"/>
<g filter="url(#b8)" opacity="1.00"><ellipse cx="878.2" cy="856.5" rx="1.44" ry="7.5" fill="#0200ff" fill-opacity="0.9"/><ellipse cx="878.2" cy="856.5" rx="1.15" ry="4.7" fill="#5b00ff"/><ellipse cx="878.2" cy="856.5" rx="0.92" ry="3.0" fill="#8100ff"/><ellipse cx="881.6" cy="856.5" rx="1.44" ry="7.5" fill="#0200ff" fill-opacity="0.9"/><ellipse cx="881.6" cy="856.5" rx="1.15" ry="4.7" fill="#5b00ff"/><ellipse cx="881.6" cy="856.5" rx="0.92" ry="3.0" fill="#6900ff"/><ellipse cx="885.0" cy="856.5" rx="1.44" ry="7.5" fill="#0200ff" fill-opacity="0.9"/><ellipse cx="885.0" cy="856.5" rx="1.15" ry="4.7" fill="#5b00ff"/><ellipse cx="885.0" cy="856.5" rx="0.92" ry="3.0" fill="#8100ff"/><ellipse cx="888.4" cy="856.5" rx="1.44" ry="7.5" fill="#0200ff" fill-opacity="0.9"/><ellipse cx="888.4" cy="856.5" rx="1.15" ry="4.7" fill="#5b00ff"/><ellipse cx="888.4" cy="856.5" rx="0.92" ry="3.0" fill="#6900ff"/><ellipse cx="891.8" cy="856.5" rx="1.44" ry="7.5" fill="#0200ff" fill-opacity="0.9"/><ellipse cx="891.8" cy="856.5" rx="1.15" ry="4.7" fill="#5b00ff"/><ellipse cx="891.8" cy="856.5" rx="0.92" ry="3.0" fill="#8100ff"/></g>
<rect x="898.0" y="851.0" width="8.0" height="11" fill="#0000f0" fill-opacity="0.80" filter="url(#b1)"/>
<rect x="924.5" y="851.0" width="9.5" height="11" fill="#0000f0" fill-opacity="0.80" filter="url(#b1)"/>
<rect x="950.5" y="852.0" width="14.5" height="9" fill="#1100ff" fill-opacity="0.95" filter="url(#b1)"/>
<g filter="url(#b8)" opacity="1.00"><ellipse cx="951.2" cy="856.5" rx="1.44" ry="7.5" fill="#0200ff" fill-opacity="0.9"/><ellipse cx="951.2" cy="856.5" rx="1.15" ry="4.7" fill="#5b00ff"/><ellipse cx="951.2" cy="856.5" rx="0.92" ry="3.0" fill="#6e00ff"/><ellipse cx="954.5" cy="856.5" rx="1.44" ry="7.5" fill="#0200ff" fill-opacity="0.9"/><ellipse cx="954.5" cy="856.5" rx="1.15" ry="4.7" fill="#5700ff"/><ellipse cx="957.8" cy="856.5" rx="1.44" ry="7.5" fill="#0200ff" fill-opacity="0.9"/><ellipse cx="957.8" cy="856.5" rx="1.15" ry="4.7" fill="#5b00ff"/><ellipse cx="957.8" cy="856.5" rx="0.92" ry="3.0" fill="#6e00ff"/><ellipse cx="961.0" cy="856.5" rx="1.44" ry="7.5" fill="#0200ff" fill-opacity="0.9"/><ellipse cx="961.0" cy="856.5" rx="1.15" ry="4.7" fill="#5700ff"/><ellipse cx="964.3" cy="856.5" rx="1.44" ry="7.5" fill="#0200ff" fill-opacity="0.9"/><ellipse cx="964.3" cy="856.5" rx="1.15" ry="4.7" fill="#5b00ff"/><ellipse cx="964.3" cy="856.5" rx="0.92" ry="3.0" fill="#6e00ff"/></g>
<rect x="1027.5" y="852.0" width="9.5" height="9" fill="#0000e8" fill-opacity="0.90" filter="url(#b1)"/>
<g filter="url(#b8)" opacity="0.95"><ellipse cx="1028.2" cy="856.5" rx="1.44" ry="7.5" fill="#0200ff" fill-opacity="0.9"/><ellipse cx="1028.2" cy="856.5" rx="1.15" ry="4.7" fill="#3600ff"/><ellipse cx="1032.2" cy="856.5" rx="1.44" ry="7.5" fill="#0200ff" fill-opacity="0.9"/><ellipse cx="1032.2" cy="856.5" rx="1.15" ry="4.7" fill="#1e00ff"/><ellipse cx="1036.3" cy="856.5" rx="1.44" ry="7.5" fill="#0200ff" fill-opacity="0.9"/><ellipse cx="1036.3" cy="856.5" rx="1.15" ry="4.7" fill="#3600ff"/></g>
<rect x="1087.0" y="852.0" width="14.5" height="9" fill="#0500ff" fill-opacity="0.95" filter="url(#b1)"/>
<g filter="url(#b8)" opacity="1.00"><ellipse cx="1087.7" cy="856.5" rx="1.44" ry="7.5" fill="#0200ff" fill-opacity="0.9"/><ellipse cx="1087.7" cy="856.5" rx="1.15" ry="4.7" fill="#5b00ff"/><ellipse cx="1091.0" cy="856.5" rx="1.44" ry="7.5" fill="#0200ff" fill-opacity="0.9"/><ellipse cx="1091.0" cy="856.5" rx="1.15" ry="4.7" fill="#4400ff"/><ellipse cx="1094.2" cy="856.5" rx="1.44" ry="7.5" fill="#0200ff" fill-opacity="0.9"/><ellipse cx="1094.2" cy="856.5" rx="1.15" ry="4.7" fill="#5b00ff"/><ellipse cx="1097.5" cy="856.5" rx="1.44" ry="7.5" fill="#0200ff" fill-opacity="0.9"/><ellipse cx="1097.5" cy="856.5" rx="1.15" ry="4.7" fill="#4400ff"/><ellipse cx="1100.8" cy="856.5" rx="1.44" ry="7.5" fill="#0200ff" fill-opacity="0.9"/><ellipse cx="1100.8" cy="856.5" rx="1.15" ry="4.7" fill="#5b00ff"/></g>
<rect x="1144.8" y="852.0" width="14.2" height="9" fill="#1500ff" fill-opacity="0.95" filter="url(#b1)"/>
<g filter="url(#b8)" opacity="1.00"><ellipse cx="1145.5" cy="856.5" rx="1.44" ry="7.5" fill="#0200ff" fill-opacity="0.9"/><ellipse cx="1145.5" cy="856.5" rx="1.15" ry="4.7" fill="#5b00ff"/><ellipse cx="1145.5" cy="856.5" rx="0.92" ry="3.0" fill="#a614eb"/><ellipse cx="1149.8" cy="856.5" rx="1.44" ry="7.5" fill="#0200ff" fill-opacity="0.9"/><ellipse cx="1149.8" cy="856.5" rx="1.15" ry="4.7" fill="#5b00ff"/><ellipse cx="1149.8" cy="856.5" rx="0.92" ry="3.0" fill="#8f05fa"/><ellipse cx="1154.0" cy="856.5" rx="1.44" ry="7.5" fill="#0200ff" fill-opacity="0.9"/><ellipse cx="1154.0" cy="856.5" rx="1.15" ry="4.7" fill="#5b00ff"/><ellipse cx="1154.0" cy="856.5" rx="0.92" ry="3.0" fill="#a614eb"/><ellipse cx="1158.3" cy="856.5" rx="1.44" ry="7.5" fill="#0200ff" fill-opacity="0.9"/><ellipse cx="1158.3" cy="856.5" rx="1.15" ry="4.7" fill="#5b00ff"/><ellipse cx="1158.3" cy="856.5" rx="0.92" ry="3.0" fill="#8f05fa"/></g>
<rect x="1196.5" y="852.0" width="15.0" height="9" fill="#0000bb" fill-opacity="0.43" filter="url(#b1)"/>
<g filter="url(#b8)" opacity="0.45"><ellipse cx="1197.2" cy="856.5" rx="1.44" ry="7.5" fill="#0000fc" fill-opacity="0.9"/><ellipse cx="1200.6" cy="856.5" rx="1.44" ry="7.5" fill="#0000de" fill-opacity="0.9"/><ellipse cx="1204.0" cy="856.5" rx="1.44" ry="7.5" fill="#0000fc" fill-opacity="0.9"/><ellipse cx="1207.4" cy="856.5" rx="1.44" ry="7.5" fill="#0000de" fill-opacity="0.9"/><ellipse cx="1210.8" cy="856.5" rx="1.44" ry="7.5" fill="#0000fc" fill-opacity="0.9"/></g>
<rect x="1256.0" y="852.0" width="15.0" height="9" fill="#0000c2" fill-opacity="0.52" filter="url(#b1)"/>
<g filter="url(#b8)" opacity="0.55"><ellipse cx="1256.7" cy="856.5" rx="1.44" ry="7.5" fill="#0200ff" fill-opacity="0.9"/><ellipse cx="1260.1" cy="856.5" rx="1.44" ry="7.5" fill="#0000ea" fill-opacity="0.9"/><ellipse cx="1263.5" cy="856.5" rx="1.44" ry="7.5" fill="#0200ff" fill-opacity="0.9"/><ellipse cx="1266.9" cy="856.5" rx="1.44" ry="7.5" fill="#0000ea" fill-opacity="0.9"/><ellipse cx="1270.3" cy="856.5" rx="1.44" ry="7.5" fill="#0200ff" fill-opacity="0.9"/></g>
<rect x="1309.0" y="852.0" width="13.5" height="9" fill="#0000ce" fill-opacity="0.66" filter="url(#b1)"/>
<g filter="url(#b8)" opacity="0.70"><ellipse cx="1309.7" cy="856.5" rx="1.44" ry="7.5" fill="#0200ff" fill-opacity="0.9"/><ellipse cx="1309.7" cy="856.5" rx="1.15" ry="4.7" fill="#1500ff"/><ellipse cx="1313.7" cy="856.5" rx="1.44" ry="7.5" fill="#0000fc" fill-opacity="0.9"/><ellipse cx="1317.8" cy="856.5" rx="1.44" ry="7.5" fill="#0200ff" fill-opacity="0.9"/><ellipse cx="1317.8" cy="856.5" rx="1.15" ry="4.7" fill="#1500ff"/><ellipse cx="1321.8" cy="856.5" rx="1.44" ry="7.5" fill="#0000fc" fill-opacity="0.9"/></g>
<rect x="205.0" y="851.0" width="23.0" height="11" fill="#0000c6" fill-opacity="0.35" filter="url(#b1)"/>
<rect x="340.0" y="851.0" width="18.0" height="11" fill="#0000cc" fill-opacity="0.40" filter="url(#b1)"/>
<rect x="108.0" y="851.0" width="20.0" height="11" fill="#0000c6" fill-opacity="0.40" filter="url(#b1)"/>
<rect x="106.0" y="944" width="4.0" height="10" fill="#0000f0" fill-opacity="0.70" filter="url(#b1)"/>
<rect x="356.0" y="944" width="16.0" height="10" fill="#0000d2" fill-opacity="0.40" filter="url(#b1)"/>
<rect x="378.0" y="944" width="14.0" height="10" fill="#0000d8" fill-opacity="0.45" filter="url(#b1)"/>
<rect x="618.0" y="944" width="6.0" height="10" fill="#0000d2" fill-opacity="0.40" filter="url(#b1)"/>
<rect x="654.0" y="944" width="6.0" height="10" fill="#0000d8" fill-opacity="0.50" filter="url(#b1)"/>
<rect x="925.0" y="944" width="10.0" height="10" fill="#0000d2" fill-opacity="0.40" filter="url(#b1)"/>
<rect x="1010.0" y="944" width="8.0" height="10" fill="#0000cc" fill-opacity="0.35" filter="url(#b1)"/>
<rect x="1258.0" y="944" width="6.0" height="10" fill="#0000d2" fill-opacity="0.40" filter="url(#b1)"/>
<rect x="1362.0" y="944" width="6.0" height="10" fill="#0000d2" fill-opacity="0.40" filter="url(#b1)"/>
<rect x="1388.0" y="944" width="16.0" height="10" fill="#0000cc" fill-opacity="0.40" filter="url(#b1)"/>
<rect x="1676.0" y="944" width="10.0" height="10" fill="#0000d2" fill-opacity="0.40" filter="url(#b1)"/>
<rect x="1700.0" y="944" width="10.0" height="10" fill="#0000cc" fill-opacity="0.40" filter="url(#b1)"/>
<rect x="1738.0" y="944" width="8.0" height="10" fill="#0000d2" fill-opacity="0.45" filter="url(#b1)"/>
<rect x="1760.0" y="944" width="10.0" height="10" fill="#0000d2" fill-opacity="0.45" filter="url(#b1)"/>
<rect x="666.5" y="944.5" width="30.0" height="9" fill="#0000ca" fill-opacity="0.52" filter="url(#b1)"/>
<g filter="url(#b8)" opacity="0.55"><ellipse cx="667.2" cy="949.0" rx="1.44" ry="7.0" fill="#0200ff" fill-opacity="0.9"/><ellipse cx="670.8" cy="949.0" rx="1.44" ry="7.0" fill="#0000f6" fill-opacity="0.9"/><ellipse cx="674.4" cy="949.0" rx="1.44" ry="7.0" fill="#0200ff" fill-opacity="0.9"/><ellipse cx="677.9" cy="949.0" rx="1.44" ry="7.0" fill="#0000f6" fill-opacity="0.9"/><ellipse cx="681.5" cy="949.0" rx="1.44" ry="7.0" fill="#0200ff" fill-opacity="0.9"/><ellipse cx="685.1" cy="949.0" rx="1.44" ry="7.0" fill="#0000f6" fill-opacity="0.9"/><ellipse cx="688.7" cy="949.0" rx="1.44" ry="7.0" fill="#0200ff" fill-opacity="0.9"/><ellipse cx="692.2" cy="949.0" rx="1.44" ry="7.0" fill="#0000f6" fill-opacity="0.9"/><ellipse cx="695.8" cy="949.0" rx="1.44" ry="7.0" fill="#0200ff" fill-opacity="0.9"/></g>
<rect x="740.5" y="944.5" width="23.0" height="9" fill="#0000ce" fill-opacity="0.57" filter="url(#b1)"/>
<g filter="url(#b8)" opacity="0.60"><ellipse cx="741.2" cy="949.0" rx="1.44" ry="7.0" fill="#0200ff" fill-opacity="0.9"/><ellipse cx="741.2" cy="949.0" rx="1.15" ry="4.3" fill="#1500ff"/><ellipse cx="744.8" cy="949.0" rx="1.44" ry="7.0" fill="#0000fc" fill-opacity="0.9"/><ellipse cx="748.4" cy="949.0" rx="1.44" ry="7.0" fill="#0200ff" fill-opacity="0.9"/><ellipse cx="748.4" cy="949.0" rx="1.15" ry="4.3" fill="#1500ff"/><ellipse cx="752.0" cy="949.0" rx="1.44" ry="7.0" fill="#0000fc" fill-opacity="0.9"/><ellipse cx="755.6" cy="949.0" rx="1.44" ry="7.0" fill="#0200ff" fill-opacity="0.9"/><ellipse cx="755.6" cy="949.0" rx="1.15" ry="4.3" fill="#1500ff"/><ellipse cx="759.2" cy="949.0" rx="1.44" ry="7.0" fill="#0000fc" fill-opacity="0.9"/><ellipse cx="762.8" cy="949.0" rx="1.44" ry="7.0" fill="#0200ff" fill-opacity="0.9"/><ellipse cx="762.8" cy="949.0" rx="1.15" ry="4.3" fill="#1500ff"/></g>
<rect x="985.5" y="944.5" width="14.0" height="9" fill="#0000c6" fill-opacity="0.47" filter="url(#b1)"/>
<g filter="url(#b8)" opacity="0.50"><ellipse cx="986.2" cy="949.0" rx="1.44" ry="7.0" fill="#0200ff" fill-opacity="0.9"/><ellipse cx="990.4" cy="949.0" rx="1.44" ry="7.0" fill="#0000f0" fill-opacity="0.9"/><ellipse cx="994.6" cy="949.0" rx="1.44" ry="7.0" fill="#0200ff" fill-opacity="0.9"/><ellipse cx="998.8" cy="949.0" rx="1.44" ry="7.0" fill="#0000f0" fill-opacity="0.9"/></g>
<rect x="1128.5" y="944.5" width="21.0" height="9" fill="#0000c6" fill-opacity="0.47" filter="url(#b1)"/>
<g filter="url(#b8)" opacity="0.50"><ellipse cx="1129.2" cy="949.0" rx="1.44" ry="7.0" fill="#0200ff" fill-opacity="0.9"/><ellipse cx="1133.1" cy="949.0" rx="1.44" ry="7.0" fill="#0000f0" fill-opacity="0.9"/><ellipse cx="1137.0" cy="949.0" rx="1.44" ry="7.0" fill="#0200ff" fill-opacity="0.9"/><ellipse cx="1141.0" cy="949.0" rx="1.44" ry="7.0" fill="#0000f0" fill-opacity="0.9"/><ellipse cx="1144.9" cy="949.0" rx="1.44" ry="7.0" fill="#0200ff" fill-opacity="0.9"/><ellipse cx="1148.8" cy="949.0" rx="1.44" ry="7.0" fill="#0000f0" fill-opacity="0.9"/></g>
<rect x="1160.5" y="944.5" width="14.0" height="9" fill="#0000ca" fill-opacity="0.47" filter="url(#b1)"/>
<g filter="url(#b8)" opacity="0.50"><ellipse cx="1161.2" cy="949.0" rx="1.44" ry="7.0" fill="#0200ff" fill-opacity="0.9"/><ellipse cx="1165.4" cy="949.0" rx="1.44" ry="7.0" fill="#0000f6" fill-opacity="0.9"/><ellipse cx="1169.6" cy="949.0" rx="1.44" ry="7.0" fill="#0200ff" fill-opacity="0.9"/><ellipse cx="1173.8" cy="949.0" rx="1.44" ry="7.0" fill="#0000f6" fill-opacity="0.9"/></g>
<rect x="1196.5" y="944.5" width="18.0" height="9" fill="#0000c6" fill-opacity="0.47" filter="url(#b1)"/>
<g filter="url(#b8)" opacity="0.50"><ellipse cx="1197.2" cy="949.0" rx="1.44" ry="7.0" fill="#0200ff" fill-opacity="0.9"/><ellipse cx="1200.5" cy="949.0" rx="1.44" ry="7.0" fill="#0000f0" fill-opacity="0.9"/><ellipse cx="1203.8" cy="949.0" rx="1.44" ry="7.0" fill="#0200ff" fill-opacity="0.9"/><ellipse cx="1207.2" cy="949.0" rx="1.44" ry="7.0" fill="#0000f0" fill-opacity="0.9"/><ellipse cx="1210.5" cy="949.0" rx="1.44" ry="7.0" fill="#0200ff" fill-opacity="0.9"/><ellipse cx="1213.8" cy="949.0" rx="1.44" ry="7.0" fill="#0000f0" fill-opacity="0.9"/></g>
<rect x="1300.5" y="944.5" width="23.0" height="9" fill="#0000ce" fill-opacity="0.57" filter="url(#b1)"/>
<g filter="url(#b8)" opacity="0.60"><ellipse cx="1301.2" cy="949.0" rx="1.44" ry="7.0" fill="#0200ff" fill-opacity="0.9"/><ellipse cx="1301.2" cy="949.0" rx="1.15" ry="4.3" fill="#1500ff"/><ellipse cx="1304.8" cy="949.0" rx="1.44" ry="7.0" fill="#0000fc" fill-opacity="0.9"/><ellipse cx="1308.4" cy="949.0" rx="1.44" ry="7.0" fill="#0200ff" fill-opacity="0.9"/><ellipse cx="1308.4" cy="949.0" rx="1.15" ry="4.3" fill="#1500ff"/><ellipse cx="1312.0" cy="949.0" rx="1.44" ry="7.0" fill="#0000fc" fill-opacity="0.9"/><ellipse cx="1315.6" cy="949.0" rx="1.44" ry="7.0" fill="#0200ff" fill-opacity="0.9"/><ellipse cx="1315.6" cy="949.0" rx="1.15" ry="4.3" fill="#1500ff"/><ellipse cx="1319.2" cy="949.0" rx="1.44" ry="7.0" fill="#0000fc" fill-opacity="0.9"/><ellipse cx="1322.8" cy="949.0" rx="1.44" ry="7.0" fill="#0200ff" fill-opacity="0.9"/><ellipse cx="1322.8" cy="949.0" rx="1.15" ry="4.3" fill="#1500ff"/></g>
<rect x="1448.5" y="944.5" width="16.0" height="9" fill="#0000c6" fill-opacity="0.47" filter="url(#b1)"/>
<g filter="url(#b8)" opacity="0.50"><ellipse cx="1449.2" cy="949.0" rx="1.44" ry="7.0" fill="#0200ff" fill-opacity="0.9"/><ellipse cx="1452.9" cy="949.0" rx="1.44" ry="7.0" fill="#0000f0" fill-opacity="0.9"/><ellipse cx="1456.5" cy="949.0" rx="1.44" ry="7.0" fill="#0200ff" fill-opacity="0.9"/><ellipse cx="1460.2" cy="949.0" rx="1.44" ry="7.0" fill="#0000f0" fill-opacity="0.9"/><ellipse cx="1463.8" cy="949.0" rx="1.44" ry="7.0" fill="#0200ff" fill-opacity="0.9"/></g>
<rect x="1478.5" y="944.5" width="13.0" height="9" fill="#0000c6" fill-opacity="0.47" filter="url(#b1)"/>
<g filter="url(#b8)" opacity="0.50"><ellipse cx="1479.2" cy="949.0" rx="1.44" ry="7.0" fill="#0200ff" fill-opacity="0.9"/><ellipse cx="1483.1" cy="949.0" rx="1.44" ry="7.0" fill="#0000f0" fill-opacity="0.9"/><ellipse cx="1486.9" cy="949.0" rx="1.44" ry="7.0" fill="#0200ff" fill-opacity="0.9"/><ellipse cx="1490.8" cy="949.0" rx="1.44" ry="7.0" fill="#0000f0" fill-opacity="0.9"/></g>
<rect x="1502.5" y="944.5" width="9.0" height="9" fill="#0000c2" fill-opacity="0.43" filter="url(#b1)"/>
<g filter="url(#b8)" opacity="0.45"><ellipse cx="1503.2" cy="949.0" rx="1.44" ry="7.0" fill="#0200ff" fill-opacity="0.9"/><ellipse cx="1507.0" cy="949.0" rx="1.44" ry="7.0" fill="#0000ea" fill-opacity="0.9"/><ellipse cx="1510.8" cy="949.0" rx="1.44" ry="7.0" fill="#0200ff" fill-opacity="0.9"/></g>
<rect x="1519.5" y="944.5" width="11.0" height="9" fill="#0000c2" fill-opacity="0.43" filter="url(#b1)"/>
<g filter="url(#b8)" opacity="0.45"><ellipse cx="1520.2" cy="949.0" rx="1.44" ry="7.0" fill="#0200ff" fill-opacity="0.9"/><ellipse cx="1523.4" cy="949.0" rx="1.44" ry="7.0" fill="#0000ea" fill-opacity="0.9"/><ellipse cx="1526.6" cy="949.0" rx="1.44" ry="7.0" fill="#0200ff" fill-opacity="0.9"/><ellipse cx="1529.8" cy="949.0" rx="1.44" ry="7.0" fill="#0000ea" fill-opacity="0.9"/></g>
<rect x="1539.5" y="944.5" width="8.0" height="9" fill="#0000c2" fill-opacity="0.38" filter="url(#b1)"/>
<g filter="url(#b8)" opacity="0.40"><ellipse cx="1540.2" cy="949.0" rx="1.44" ry="7.0" fill="#0200ff" fill-opacity="0.9"/><ellipse cx="1543.5" cy="949.0" rx="1.44" ry="7.0" fill="#0000ea" fill-opacity="0.9"/><ellipse cx="1546.8" cy="949.0" rx="1.44" ry="7.0" fill="#0200ff" fill-opacity="0.9"/></g>
<rect x="1632.5" y="944.5" width="10.0" height="9" fill="#0000c6" fill-opacity="0.47" filter="url(#b1)"/>
<g filter="url(#b8)" opacity="0.50"><ellipse cx="1633.2" cy="949.0" rx="1.44" ry="7.0" fill="#0200ff" fill-opacity="0.9"/><ellipse cx="1637.5" cy="949.0" rx="1.44" ry="7.0" fill="#0000f0" fill-opacity="0.9"/><ellipse cx="1641.8" cy="949.0" rx="1.44" ry="7.0" fill="#0200ff" fill-opacity="0.9"/></g>
<rect x="1650.5" y="944.5" width="9.0" height="9" fill="#0000bf" fill-opacity="0.38" filter="url(#b1)"/>
<g filter="url(#b8)" opacity="0.40"><ellipse cx="1651.2" cy="949.0" rx="1.44" ry="7.0" fill="#0200ff" fill-opacity="0.9"/><ellipse cx="1655.0" cy="949.0" rx="1.44" ry="7.0" fill="#0000e4" fill-opacity="0.9"/><ellipse cx="1658.8" cy="949.0" rx="1.44" ry="7.0" fill="#0200ff" fill-opacity="0.9"/></g>
<rect x="642.6" y="738" width="17.4" height="86" fill="url(#gb1)" filter="url(#b6)"/>
<rect x="1758.8" y="738" width="23.7" height="86" fill="url(#gb1)" filter="url(#b6)"/>
<rect x="1199.8" y="738" width="7.8" height="86" fill="url(#gb1)" filter="url(#b6)"/>
<rect x="1167.0" y="738" width="2.6" height="86" fill="url(#gb2)" filter="url(#b7)"/>
<rect x="1247.6" y="738" width="2.4" height="86" fill="url(#gb2)" filter="url(#b7)"/>
</g>
<rect x="102.50" y="51.50" width="1674.00" height="924.00" fill="none" stroke="#000" stroke-width="1.30"/>
<g stroke="#000" stroke-width="1.30"><line x1="96.25" y1="908.50" x2="102.50" y2="908.50"/><line x1="96.25" y1="774.50" x2="102.50" y2="774.50"/><line x1="96.25" y1="640.50" x2="102.50" y2="640.50"/><line x1="96.25" y1="506.50" x2="102.50" y2="506.50"/><line x1="96.25" y1="372.50" x2="102.50" y2="372.50"/><line x1="96.25" y1="238.50" x2="102.50" y2="238.50"/><line x1="96.25" y1="103.50" x2="102.50" y2="103.50"/><line x1="102.50" y1="975.50" x2="102.50" y2="981.75"/><line x1="214.50" y1="975.50" x2="214.50" y2="981.75"/><line x1="325.50" y1="975.50" x2="325.50" y2="981.75"/><line x1="437.50" y1="975.50" x2="437.50" y2="981.75"/><line x1="548.50" y1="975.50" x2="548.50" y2="981.75"/><line x1="660.50" y1="975.50" x2="660.50" y2="981.75"/><line x1="771.50" y1="975.50" x2="771.50" y2="981.75"/><line x1="883.50" y1="975.50" x2="883.50" y2="981.75"/><line x1="994.50" y1="975.50" x2="994.50" y2="981.75"/><line x1="1106.50" y1="975.50" x2="1106.50" y2="981.75"/><line x1="1218.50" y1="975.50" x2="1218.50" y2="981.75"/><line x1="1329.50" y1="975.50" x2="1329.50" y2="981.75"/><line x1="1441.50" y1="975.50" x2="1441.50" y2="981.75"/><line x1="1552.50" y1="975.50" x2="1552.50" y2="981.75"/><line x1="1664.50" y1="975.50" x2="1664.50" y2="981.75"/></g>
<g class="t3" text-anchor="end"><text x="89.90" y="919.20">20</text><text x="89.90" y="785.05">30</text><text x="89.90" y="650.90">40</text><text x="89.90" y="516.75">50</text><text x="89.90" y="382.60">60</text><text x="89.90" y="248.45">70</text><text x="89.90" y="114.30">80</text></g>
<g class="t3" text-anchor="middle"><text x="102.50" y="1009.90">17:30</text><text x="214.06" y="1009.90">17:31</text><text x="325.62" y="1009.90">17:32</text><text x="437.18" y="1009.90">17:33</text><text x="548.74" y="1009.90">17:34</text><text x="660.30" y="1009.90">17:35</text><text x="771.86" y="1009.90">17:36</text><text x="883.42" y="1009.90">17:37</text><text x="994.98" y="1009.90">17:38</text><text x="1106.54" y="1009.90">17:39</text><text x="1218.10" y="1009.90">17:40</text><text x="1329.66" y="1009.90">17:41</text><text x="1441.22" y="1009.90">17:42</text><text x="1552.78" y="1009.90">17:43</text><text x="1664.34" y="1009.90">17:44</text></g>
<text class="t1" text-anchor="middle" x="938.60" y="41.2" xml:space="preserve" style="white-space:pre">2026/04/10  Radio flux density, e-CALLISTO (SWISS-HEITERSWIL), Focuscode: 59</text>
<text class="t2" text-anchor="middle" x="938.60" y="1048.6">Observation time [UTC]</text>
<text class="t2" text-anchor="middle" transform="translate(37.2 513.50) rotate(-90)">Frequency [MHz]</text>
<rect x="1916.50" y="27.50" width="43.00" height="960.00" fill="url(#cbar)" stroke="#000" stroke-width="1.30"/>
<g stroke="#000" stroke-width="1.30"><line x1="1959.50" y1="987.50" x2="1965.75" y2="987.50"/><line x1="1959.50" y1="874.50" x2="1965.75" y2="874.50"/><line x1="1959.50" y1="761.50" x2="1965.75" y2="761.50"/><line x1="1959.50" y1="648.50" x2="1965.75" y2="648.50"/><line x1="1959.50" y1="535.50" x2="1965.75" y2="535.50"/><line x1="1959.50" y1="422.50" x2="1965.75" y2="422.50"/><line x1="1959.50" y1="309.50" x2="1965.75" y2="309.50"/><line x1="1959.50" y1="196.50" x2="1965.75" y2="196.50"/><line x1="1959.50" y1="83.50" x2="1965.75" y2="83.50"/></g>
<g class="t4"><text x="1972.30" y="992.50">−2</text><text x="1972.30" y="879.56">0</text><text x="1972.30" y="766.62">2</text><text x="1972.30" y="653.68">4</text><text x="1972.30" y="540.74">6</text><text x="1972.30" y="427.79">8</text><text x="1972.30" y="314.85">10</text><text x="1972.30" y="201.91">12</text><text x="1972.30" y="88.97">14</text></g>
<text class="t2" text-anchor="middle" transform="translate(2028.1 507.50) rotate(-90)">dB above background</text>
</svg>
</body></html>
